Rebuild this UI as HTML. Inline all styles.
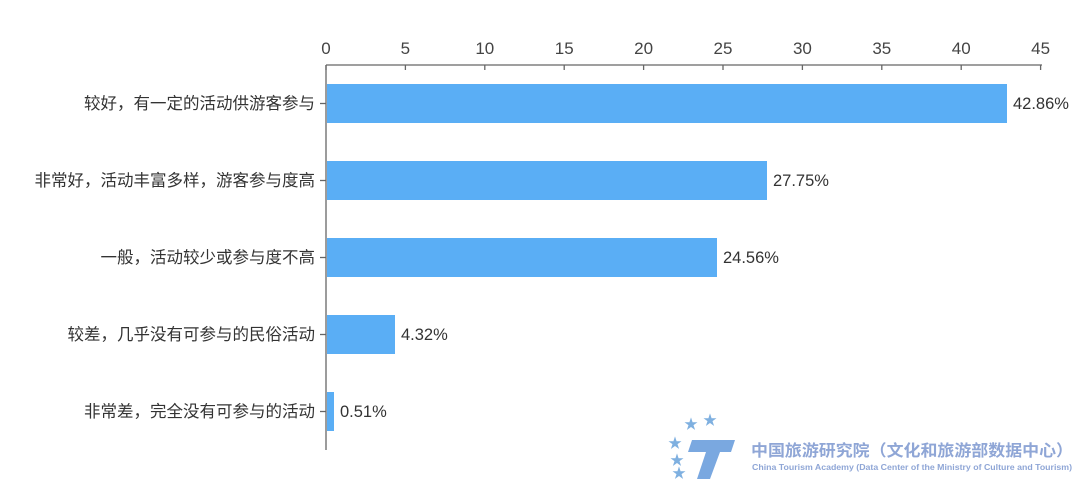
<!DOCTYPE html>
<html><head><meta charset="utf-8"><style>
body{margin:0;background:#fff;}
svg{display:block;font-family:"Liberation Sans","Noto Sans CJK SC",sans-serif;}
</style></head><body>
<svg width="1080" height="479" viewBox="0 0 1080 479">
<g stroke="#666" stroke-width="1.3" fill="none">
<line x1="326" y1="65" x2="1042" y2="65"/>
<line x1="326" y1="65" x2="326" y2="450"/>
<line x1="326" y1="65" x2="326" y2="70"/><line x1="405.4" y1="65" x2="405.4" y2="70"/><line x1="484.8" y1="65" x2="484.8" y2="70"/><line x1="564.2" y1="65" x2="564.2" y2="70"/><line x1="643.6" y1="65" x2="643.6" y2="70"/><line x1="723" y1="65" x2="723" y2="70"/><line x1="802.4" y1="65" x2="802.4" y2="70"/><line x1="881.8" y1="65" x2="881.8" y2="70"/><line x1="961.2" y1="65" x2="961.2" y2="70"/><line x1="1040.6" y1="65" x2="1040.6" y2="70"/>
<line x1="320" y1="103.5" x2="326" y2="103.5"/><line x1="320" y1="180.5" x2="326" y2="180.5"/><line x1="320" y1="257.5" x2="326" y2="257.5"/><line x1="320" y1="334.5" x2="326" y2="334.5"/><line x1="320" y1="411.5" x2="326" y2="411.5"/>
</g>
<g font-size="17" fill="#444" text-anchor="middle">
<text x="326" y="54">0</text><text x="405.4" y="54">5</text><text x="484.8" y="54">10</text><text x="564.2" y="54">15</text><text x="643.6" y="54">20</text><text x="723" y="54">25</text><text x="802.4" y="54">30</text><text x="881.8" y="54">35</text><text x="961.2" y="54">40</text><text x="1040.6" y="54">45</text>
</g>
<g fill="#5aaef5">
<rect x="327" y="84" width="680" height="39"/>
<rect x="327" y="161" width="440" height="39"/>
<rect x="327" y="238" width="390" height="39"/>
<rect x="327" y="315" width="68" height="39"/>
<rect x="327" y="392" width="7" height="39"/>
</g>
<g font-size="16.5" fill="#333" text-anchor="end">
<text x="315" y="109">较好，有一定的活动供游客参与</text>
<text x="315" y="186">非常好，活动丰富多样，游客参与度高</text>
<text x="315" y="263">一般，活动较少或参与度不高</text>
<text x="315" y="340">较差，几乎没有可参与的民俗活动</text>
<text x="315" y="417">非常差，完全没有可参与的活动</text>
</g>
<g font-size="16.5" fill="#333">
<text x="1013" y="109">42.86%</text>
<text x="773" y="186">27.75%</text>
<text x="723" y="263">24.56%</text>
<text x="401" y="340">4.32%</text>
<text x="340" y="417">0.51%</text>
</g>
<g fill="#7fb0e0" font-size="14">
<text x="668" y="448">★</text><text x="684" y="429">★</text><text x="703" y="425">★</text><text x="670" y="465">★</text><text x="672" y="478">★</text>
</g>
<path d="M692 440 L735 440 L731 452 L720 452 L710 479 L697 479 L706 452 L688 452 Z" fill="#7aa8e0"/>
<text x="751" y="456" font-size="16" fill="#8fa6d6" font-weight="bold" textLength="322" lengthAdjust="spacingAndGlyphs">中国旅游研究院（文化和旅游部数据中心）</text>
<text x="752" y="470" font-size="8.2" fill="#8fa6d6" font-weight="bold" textLength="320" lengthAdjust="spacingAndGlyphs">China Tourism Academy (Data Center of the Ministry of Culture and Tourism)</text>
</svg>
</body></html>
